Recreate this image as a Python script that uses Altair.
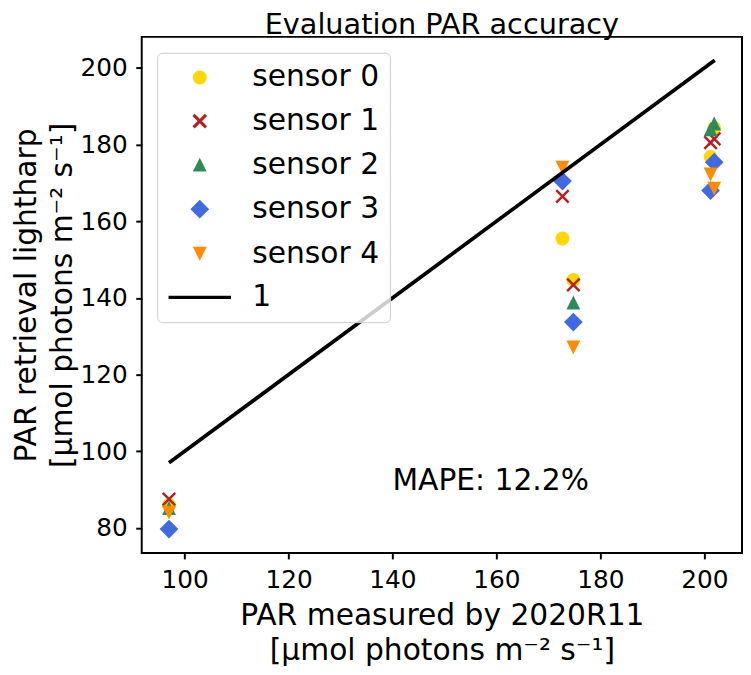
import altair as alt
import pandas as pd

# ---- data ----
sensors = ["sensor 0", "sensor 1", "sensor 2", "sensor 3", "sensor 4"]
line_label = "1"
par_measured = [97.0, 172.7, 174.8, 201.2, 201.9]
sensor0 = [86.0, 155.5, 144.7, 176.8, 184.3]
sensor1 = [87.5, 166.5, 143.4, 180.5, 181.5]
sensor2 = [85.2, 171.5, 138.8, 184.0, 185.5]
sensor3 = [79.7, 170.5, 133.7, 168.0, 175.4]
sensor4 = [84.0, 174.0, 127.1, 172.2, 168.5]
one_to_one_x = [97.0, 202.0]
x_ticks = [100, 120, 140, 160, 180, 200]
y_ticks = [80, 100, 120, 140, 160, 180, 200]
mape_text = "MAPE: 12.2%"

rows = []
for i, (name, vals) in enumerate(zip(sensors, [sensor0, sensor1, sensor2, sensor3, sensor4])):
    for x, y in zip(par_measured, vals):
        rows.append({"sensor": name, "measured": x, "retrieved": y, "ord": i})
df = pd.DataFrame(rows)
df_line = pd.DataFrame({"measured": one_to_one_x, "retrieved": one_to_one_x})
df_text = pd.DataFrame({"measured": [140.0], "retrieved": [90.0], "label": [mape_text]})

FONT = "DejaVu Sans"
domain = sensors + [line_label]
fill_range = ["#FFD700", "transparent", "#2E8B57", "#4169E1", "#FF8C00", "transparent"]
stroke_range = ["transparent", "#B22222", "transparent", "transparent", "transparent", "black"]
shape_range = [
    "circle",
    "M-0.9,-0.9L0.9,0.9M-0.9,0.9L0.9,-0.9",
    "M0,-1L1,1L-1,1Z",
    "M0,-1.35L1.35,0L0,1.35L-1.35,0Z",
    "M0,1L1,-1L-1,-1Z",
    "M-4.5,0L4.5,0",
]

xscale = alt.Scale(domain=[91.75, 207.25], nice=False, zero=False)
yscale = alt.Scale(domain=[73.48, 208.1], nice=False, zero=False)

legend = alt.Legend(
    title=None, orient="none", legendX=15.6, legendY=16, direction="vertical",
    labelFontSize=30, labelFont=FONT, labelColor="black",
    symbolSize=196, symbolStrokeWidth=3.2, symbolOpacity=1,
    padding=10, rowPadding=14, symbolOffset=18, labelOffset=38,
    fillColor="rgba(255,255,255,0.8)", strokeColor="#cccccc", cornerRadius=5,
)

axis_common = dict(
    labelFontSize=25, labelFont=FONT, labelColor="black",
    tickColor="black", tickWidth=2, tickSize=6, labelPadding=8.5,
    domain=False, grid=False,
    titleFontSize=30, titleFont=FONT, titleFontWeight="normal", titleColor="black",
    titleLineHeight=36, titleBaseline="alphabetic",
)

x_enc = alt.X("measured:Q", scale=xscale,
              axis=alt.Axis(values=x_ticks,
                            title=["PAR measured by 2020R11", "[μmol photons m⁻² s⁻¹]"],
                            titleX=303, titleY=72, titleAlign="center", **axis_common))
y_enc = alt.Y("retrieved:Q", scale=yscale,
              axis=alt.Axis(values=y_ticks,
                            title=["PAR retrieval lightharp", "[μmol photons m⁻² s⁻¹]"],
                            titleX=-107, titleY=260.5, titleAngle=270, titleAlign="center",
                            **axis_common))

points = alt.Chart(df).mark_point(opacity=1, strokeWidth=2.5, size=196).encode(
    x=x_enc,
    y=y_enc,
    fill=alt.Fill("sensor:N", scale=alt.Scale(domain=domain, range=fill_range), legend=legend),
    stroke=alt.Stroke("sensor:N", scale=alt.Scale(domain=domain, range=stroke_range), legend=legend),
    shape=alt.Shape("sensor:N", scale=alt.Scale(domain=domain, range=shape_range), legend=legend),
    order=alt.Order("ord:Q"),
)

line = alt.Chart(df_line).mark_line(color="black", strokeWidth=3.75).encode(
    x=alt.X("measured:Q", scale=xscale),
    y=alt.Y("retrieved:Q", scale=yscale),
)

text = alt.Chart(df_text).mark_text(align="left", baseline="alphabetic", fontSize=30,
                                    font=FONT, color="black").encode(
    x=alt.X("measured:Q", scale=xscale),
    y=alt.Y("retrieved:Q", scale=yscale),
    text="label:N",
)

chart = (
    alt.layer(points, line, text)
    .properties(
        width=606, height=521,
        title=alt.TitleParams("Evaluation PAR accuracy", fontSize=29, font=FONT,
                              fontWeight="normal", color="black", anchor="middle",
                              frame="group", baseline="alphabetic", offset=9, dy=35),
        autosize=alt.AutoSizeParams(type="none"),
        padding={"left": 135, "top": 26, "right": 1, "bottom": 114},
    )
    .configure_view(stroke="black", strokeWidth=2)
)

chart.save("out.html", embed_options={"renderer": "svg", "actions": False})
